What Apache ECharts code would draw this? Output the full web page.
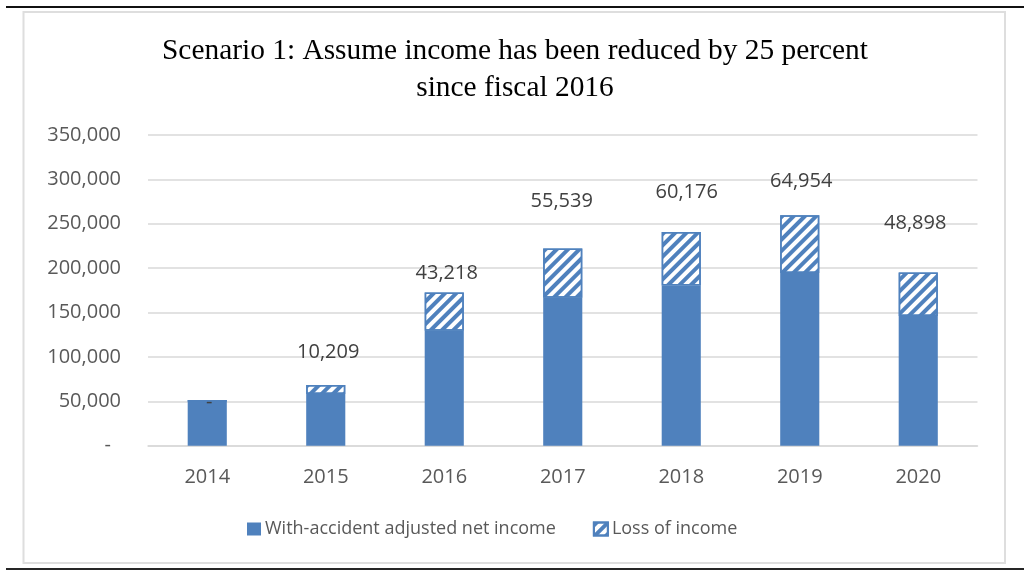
<!DOCTYPE html>
<html>
<head>
<meta charset="utf-8">
<script src="https://cdn.jsdelivr.net/npm/echarts@6/dist/echarts.min.js"></script>
<style>
html,body{margin:0;padding:0;background:#fff;}
#chart{width:1024px;height:575px;}
</style>
</head>
<body>
<div id="chart"></div>
<script>
const categories = ['2014', '2015', '2016', '2017', '2018', '2019', '2020'];
const netIncome = [50600, 58100, 129400, 166600, 180600, 194650, 146200];
const lossOfIncome = [0, 10209, 43218, 55539, 60176, 64954, 48898];
const seriesNames = ['With-accident adjusted net income', 'Loss of income'];
const titleLines = ['Scenario 1: Assume income has been reduced by 25 percent', 'since fiscal 2016'];

// label placement nudges (style only): [dx, lift above bar top in px]
const labelNudge = [[2, -2], [2.5, 33], [2.5, 19.6], [-1, 47.6], [5.5, 40], [1.5, 34.3], [-3, 49]];

const blue = '#4f81bd';
const fmt = v => v === 0 ? '-' : v.toLocaleString('en-US');

const chart = echarts.init(document.getElementById('chart'));
const option = {
  animation: false,
  backgroundColor: '#fff',
  title: {
    text: titleLines.join('\n'),
    left: 510,
    top: 28,
    textAlign: 'center',
    textStyle: {
      fontFamily: 'Liberation Serif',
      fontSize: 29.4,
      fontWeight: 'normal',
      color: '#000',
      lineHeight: 37
    }
  },
  legend: {
    left: 242,
    top: 515,
    itemWidth: 14,
    itemHeight: 13,
    itemGap: 37,
    icon: 'rect',
    textStyle: { fontFamily: 'Open Sans', fontSize: 18, color: '#595959', padding: [0, 0, 0, -1] },
    data: seriesNames
  },
  grid: { left: 148, right: 46.5, top: 135, bottom: 129.3, containLabel: false },
  xAxis: {
    type: 'category',
    data: categories,
    axisLine: { show: true, lineStyle: { color: '#d9d9d9', width: 1.5 } },
    axisTick: { show: false },
    axisLabel: { fontFamily: 'Open Sans', fontSize: 20, color: '#595959', margin: 22 }
  },
  yAxis: {
    type: 'value',
    min: 0,
    max: 350000,
    interval: 50000,
    axisLine: { show: false },
    axisTick: { show: false },
    splitLine: { lineStyle: { color: '#d9d9d9', width: 1.5 } },
    axisLabel: {
      fontFamily: 'Open Sans', fontSize: 20, color: '#595959', margin: 27,
      formatter: v => v === 0 ? '{d|-}' : v.toLocaleString('en-US'),
      rich: { d: { fontFamily: 'Open Sans', fontSize: 20, color: '#595959', padding: [0, 10, 0, 0] } }
    }
  },
  series: [
    {
      name: seriesNames[0],
      type: 'bar',
      stack: 'total',
      barWidth: '33%',
      data: netIncome,
      itemStyle: { color: blue }
    },
    {
      name: seriesNames[1],
      type: 'bar',
      stack: 'total',
      barWidth: '33%',
      data: lossOfIncome.map((v, i) => ({
        value: v,
        label: { offset: [labelNudge[i][0], -(labelNudge[i][1] - 10)] }
      })),
      itemStyle: {
        color: '#fff',
        borderColor: blue,
        borderWidth: 1.5,
        decal: {
          symbol: 'rect',
          symbolSize: 1,
          color: blue,
          dashArrayX: [1, 0],
          dashArrayY: [4, 4],
          rotation: -Math.PI / 4
        }
      },
      label: {
        show: true,
        position: 'top',
        distance: 0,
        fontFamily: 'Open Sans',
        fontSize: 20,
        lineHeight: 20,
        color: '#404040',
        formatter: p => fmt(p.value)
      }
    }
  ],
  graphic: [
    { type: 'rect', silent: true, shape: { x: 23.5, y: 12, width: 981.5, height: 551 },
      style: { fill: null, stroke: '#dedede', lineWidth: 2 } },
    { type: 'line', silent: true, shape: { x1: 6, y1: 7, x2: 1024, y2: 7 },
      style: { stroke: '#111', lineWidth: 2 } },
    { type: 'line', silent: true, shape: { x1: 6, y1: 569, x2: 1024, y2: 569 },
      style: { stroke: '#262626', lineWidth: 2 } }
  ]
};
chart.setOption(option);
</script>
</body>
</html>
